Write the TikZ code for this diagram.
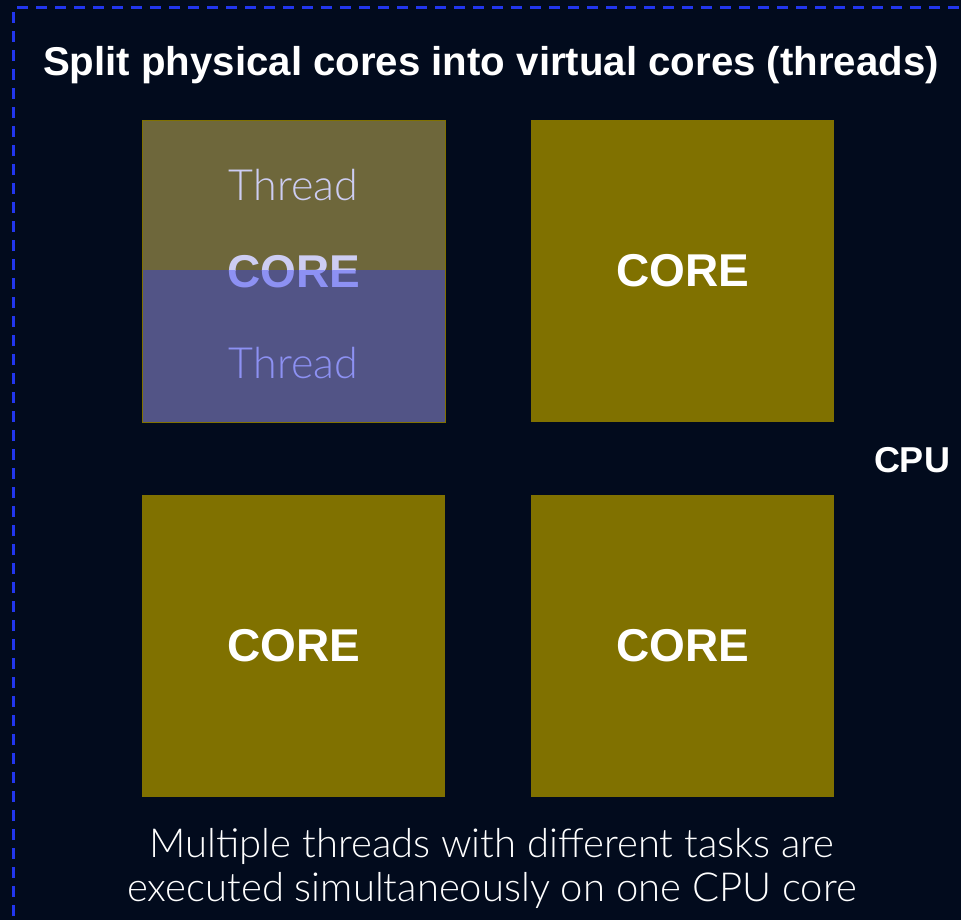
\documentclass[tikz,border=0pt]{standalone}
\usepackage{fontspec}
\setmainfont{Liberation Sans}
\newfontfamily\lightfont{Lato}[UprightFont=* Light]
\definecolor{bg}{HTML}{020B1D}
\definecolor{frameblue}{HTML}{2236EE}
\definecolor{coreolive}{HTML}{807100}
\definecolor{threadtop}{HTML}{6E673B}
\definecolor{threadbot}{HTML}{525486}
\definecolor{txttop}{HTML}{CDCDF3}
\definecolor{txtbot}{HTML}{8D91F3}
\tikzset{
  corebox/.style={fill=coreolive, minimum width=303pt, minimum height=302pt, inner sep=0pt,
    text=white, font=\bfseries\fontsize{46}{54}\selectfont},
  corelabel/.style={inner sep=0pt, font=\bfseries\fontsize{46}{54}\selectfont},
  threadlabel/.style={inner sep=0pt, font=\lightfont\fontsize{43}{50}\selectfont},
  heading/.style={text=white, inner sep=0pt, font=\bfseries\fontsize{40.2}{48}\selectfont},
  caption/.style={text=white, inner sep=0pt, align=center, font=\lightfont\fontsize{40}{44}\selectfont}
}
\begin{document}
\begin{tikzpicture}[x=1pt,y=-1pt]
\fill[bg] (0,0) rectangle (961,920);
\useasboundingbox (0,0) rectangle (961,920);

% dashed outline of the CPU package
\coordinate (fbl) at (13,935);
\coordinate (ftl) at (13,8);
\coordinate (ftr) at (975,8);
\draw[frameblue, line width=3pt, dash pattern=on 11pt off 8pt] (fbl) -- (ftl) -- (ftr);

\node[heading] (title) at (491,65) {Split physical cores into virtual cores (threads)};

% core split into two threads
\fill[threadtop] (142,120) rectangle (445,270);
\fill[threadbot] (142,270) rectangle (445,422);
\draw[coreolive, line width=0.8pt] (142,120) rectangle (445,422);
\begin{scope}
  \clip (142,120) rectangle (445,270);
  \node[corelabel, text=txttop] (core1) at (293.5,272) {CORE};
\end{scope}
\begin{scope}
  \clip (142,270) rectangle (445,422);
  \node[corelabel, text=txtbot] at (293.5,272) {CORE};
\end{scope}
\node[threadlabel, text=txttop] (thr1) at (293.5,185) {Thread};
\node[threadlabel, text=txtbot] (thr2) at (293.5,363) {Thread};

% remaining cores
\node[corebox] (core2) at (682.5,271) {CORE};
\node[corebox] (core3) at (293.5,646) {CORE};
\node[corebox] (core4) at (682.5,646) {CORE};

\node[text=white, inner sep=0pt, font=\bfseries\fontsize{36}{42}\selectfont] (cpu) at (912,460) {CPU};

\node[caption] (note) at (492,868) {Multiple threads with different tasks are\\executed simultaneously on one CPU core};
\end{tikzpicture}
\end{document}
